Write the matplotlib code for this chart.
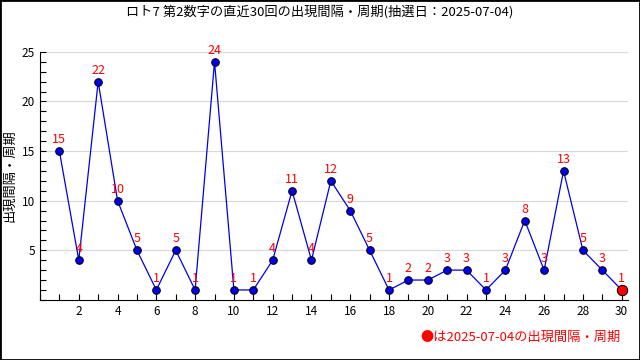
import matplotlib
matplotlib.use('Agg')
import matplotlib.pyplot as plt
from matplotlib.ticker import MultipleLocator
from matplotlib.patches import Rectangle

plt.rcParams['font.family'] = ['Noto Sans CJK JP', 'DejaVu Sans']

draws = list(range(1, 31))
intervals = [15, 4, 22, 10, 5, 1, 5, 1, 24, 1, 1, 4, 11, 4, 12, 9, 5, 1, 2, 2,
             3, 3, 1, 3, 8, 3, 13, 5, 3, 1]
title = 'ロト7 第2数字の直近30回の出現間隔・周期(抽選日：2025-07-04)'
ylabel = '出現間隔・周期'
note = '●は2025-07-04の出現間隔・周期'

fig = plt.figure(figsize=(6.4, 3.6), dpi=100)
ax = fig.add_axes([0.0625, 0.167, 0.918, 0.689])

ax.plot(draws, intervals, color='#0000ee', lw=0.9, marker='o', ms=5.5,
        mfc='#0000ee', mec='black', mew=0.7, zorder=3)
ax.plot(draws[-1], intervals[-1], 'o', ms=7.5, mfc='#ff0000', mec='black',
        mew=0.7, zorder=4)
for x, y in zip(draws, intervals):
    ax.annotate(str(y), (x, y), xytext=(0, 3.5), textcoords='offset points',
                ha='center', va='bottom', color='red', fontsize=9, zorder=5)

ax.set_xlim(0, 30.3)
ax.set_ylim(0, 25)
ax.set_xticks([2, 4, 6, 8, 10, 12, 14, 16, 18, 20, 22, 24, 26, 28, 30])
ax.xaxis.set_minor_locator(MultipleLocator(1))
ax.set_yticks([5, 10, 15, 20, 25])
ax.yaxis.set_minor_locator(MultipleLocator(1))
ax.tick_params(which='both', direction='in', labelsize=8.5, length=4, width=0.8)
ax.grid(axis='y', color='#d8d8d8', lw=0.8)
ax.set_axisbelow(True)
for s in ['top', 'right']:
    ax.spines[s].set_visible(False)

ax.set_ylabel(ylabel, fontsize=9.5, labelpad=4)
fig.text(0.5, 0.967, title, ha='center', va='center', fontsize=9.5)
fig.text(0.97, 0.062, note, ha='right', va='center', fontsize=9.5, color='red')

fig.patches.append(Rectangle((0, 0), 1, 1, transform=fig.transFigure,
                             fill=False, edgecolor='black', lw=2))

fig.savefig('out.png', dpi=100)
